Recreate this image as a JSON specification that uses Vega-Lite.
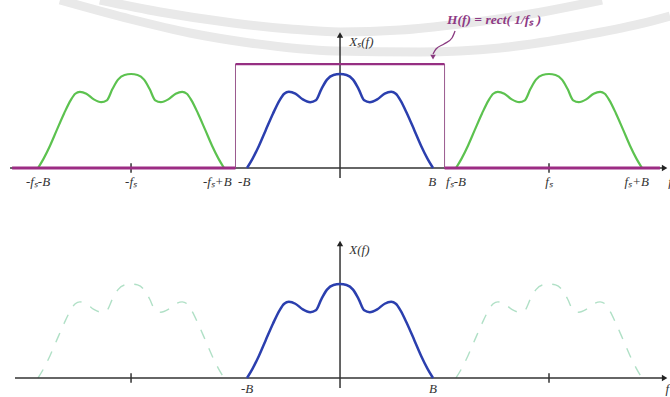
{
  "$schema": "https://vega.github.io/schema/vega-lite/v6.json",
  "padding": 0,
  "spacing": 0,
  "background": "white",
  "config": {"view": {"stroke": null}},
  "resolve": {"scale": {"x": "independent", "y": "independent"}},
  "datasets": {
    "curves": [
      {"c":"base","f":-1,"a":0},{"c":"base","f":-0.94,"a":0.10},{"c":"base","f":-0.87,"a":0.24},{"c":"base","f":-0.8,"a":0.40},{"c":"base","f":-0.72,"a":0.58},{"c":"base","f":-0.65,"a":0.72},{"c":"base","f":-0.6,"a":0.79},{"c":"base","f":-0.55,"a":0.81},{"c":"base","f":-0.48,"a":0.79},{"c":"base","f":-0.4,"a":0.73},{"c":"base","f":-0.32,"a":0.70},{"c":"base","f":-0.26,"a":0.72},{"c":"base","f":-0.2,"a":0.84},{"c":"base","f":-0.14,"a":0.94},{"c":"base","f":-0.07,"a":0.99},{"c":"base","f":0,"a":1.0},{"c":"base","f":0.07,"a":0.99},{"c":"base","f":0.14,"a":0.94},{"c":"base","f":0.2,"a":0.84},{"c":"base","f":0.26,"a":0.72},{"c":"base","f":0.32,"a":0.70},{"c":"base","f":0.4,"a":0.73},{"c":"base","f":0.48,"a":0.79},{"c":"base","f":0.55,"a":0.81},{"c":"base","f":0.6,"a":0.79},{"c":"base","f":0.65,"a":0.72},{"c":"base","f":0.72,"a":0.58},{"c":"base","f":0.8,"a":0.40},{"c":"base","f":0.87,"a":0.24},{"c":"base","f":0.94,"a":0.10},{"c":"base","f":1,"a":0},
      {"c":"left","f":-3.247,"a":0},{"c":"left","f":-3.187,"a":0.10},{"c":"left","f":-3.117,"a":0.24},{"c":"left","f":-3.047,"a":0.40},{"c":"left","f":-2.967,"a":0.58},{"c":"left","f":-2.897,"a":0.72},{"c":"left","f":-2.847,"a":0.79},{"c":"left","f":-2.797,"a":0.81},{"c":"left","f":-2.727,"a":0.79},{"c":"left","f":-2.647,"a":0.73},{"c":"left","f":-2.567,"a":0.70},{"c":"left","f":-2.507,"a":0.72},{"c":"left","f":-2.447,"a":0.84},{"c":"left","f":-2.387,"a":0.94},{"c":"left","f":-2.317,"a":0.99},{"c":"left","f":-2.247,"a":1.0},{"c":"left","f":-2.177,"a":0.99},{"c":"left","f":-2.107,"a":0.94},{"c":"left","f":-2.047,"a":0.84},{"c":"left","f":-1.987,"a":0.72},{"c":"left","f":-1.927,"a":0.70},{"c":"left","f":-1.847,"a":0.73},{"c":"left","f":-1.767,"a":0.79},{"c":"left","f":-1.697,"a":0.81},{"c":"left","f":-1.647,"a":0.79},{"c":"left","f":-1.597,"a":0.72},{"c":"left","f":-1.527,"a":0.58},{"c":"left","f":-1.447,"a":0.40},{"c":"left","f":-1.377,"a":0.24},{"c":"left","f":-1.307,"a":0.10},{"c":"left","f":-1.247,"a":0},
      {"c":"right","f":1.247,"a":0},{"c":"right","f":1.307,"a":0.10},{"c":"right","f":1.377,"a":0.24},{"c":"right","f":1.447,"a":0.40},{"c":"right","f":1.527,"a":0.58},{"c":"right","f":1.597,"a":0.72},{"c":"right","f":1.647,"a":0.79},{"c":"right","f":1.697,"a":0.81},{"c":"right","f":1.767,"a":0.79},{"c":"right","f":1.847,"a":0.73},{"c":"right","f":1.927,"a":0.70},{"c":"right","f":1.987,"a":0.72},{"c":"right","f":2.047,"a":0.84},{"c":"right","f":2.107,"a":0.94},{"c":"right","f":2.177,"a":0.99},{"c":"right","f":2.247,"a":1.0},{"c":"right","f":2.317,"a":0.99},{"c":"right","f":2.387,"a":0.94},{"c":"right","f":2.447,"a":0.84},{"c":"right","f":2.507,"a":0.72},{"c":"right","f":2.567,"a":0.70},{"c":"right","f":2.647,"a":0.73},{"c":"right","f":2.727,"a":0.79},{"c":"right","f":2.797,"a":0.81},{"c":"right","f":2.847,"a":0.79},{"c":"right","f":2.897,"a":0.72},{"c":"right","f":2.967,"a":0.58},{"c":"right","f":3.047,"a":0.40},{"c":"right","f":3.117,"a":0.24},{"c":"right","f":3.187,"a":0.10},{"c":"right","f":3.247,"a":0}
    ],
    "wm": [
      {"c":"outer","f":-3.011,"a":1.787},{"c":"outer","f":-2.258,"a":1.585},{"c":"outer","f":-1.613,"a":1.436},{"c":"outer","f":-0.968,"a":1.33},{"c":"outer","f":-0.054,"a":1.245},{"c":"outer","f":0.86,"a":1.234},{"c":"outer","f":1.72,"a":1.277},{"c":"outer","f":2.581,"a":1.404},{"c":"outer","f":3.226,"a":1.532},{"c":"outer","f":3.548,"a":1.617},
      {"c":"inner","f":-2.581,"a":1.787},{"c":"inner","f":-1.935,"a":1.66},{"c":"inner","f":-1.151,"a":1.543},{"c":"inner","f":-0.538,"a":1.479},{"c":"inner","f":0,"a":1.447},{"c":"inner","f":0.645,"a":1.468},{"c":"inner","f":1.29,"a":1.532},{"c":"inner","f":2.043,"a":1.638},{"c":"inner","f":2.817,"a":1.787}
    ],
    "segs": [
      {"p":"top","k":"axis","f":-3.548,"f2":3.47,"a":0,"a2":0},
      {"p":"top","k":"vaxis","f":0,"f2":0,"a":-0.106,"a2":1.40},
      {"p":"top","k":"tick","f":-2.247,"f2":-2.247,"a":-0.05,"a2":0.05},
      {"p":"top","k":"tick","f":2.247,"f2":2.247,"a":-0.05,"a2":0.05},
      {"p":"top","k":"side","f":-1.124,"f2":-1.124,"a":0,"a2":1.106},
      {"p":"top","k":"side","f":1.124,"f2":1.124,"a":0,"a2":1.106},
      {"p":"top","k":"rtop","f":-1.124,"f2":1.124,"a":1.106,"a2":1.106},
      {"p":"top","k":"pbase","f":-3.526,"f2":-1.124,"a":0,"a2":0},
      {"p":"top","k":"pbase","f":1.124,"f2":3.44,"a":0,"a2":0},
      {"p":"bot","k":"axis","f":-3.495,"f2":3.47,"a":0,"a2":0},
      {"p":"bot","k":"vaxis","f":0,"f2":0,"a":-0.106,"a2":1.41},
      {"p":"bot","k":"tick","f":-2.247,"f2":-2.247,"a":-0.05,"a2":0.05},
      {"p":"bot","k":"tick","f":2.247,"f2":2.247,"a":-0.05,"a2":0.05}
    ],
    "heads": [
      {"p":"top","s":"triangle-right","f":3.49,"a":0},
      {"p":"top","s":"triangle-up","f":0,"a":1.415},
      {"p":"bot","s":"triangle-right","f":3.49,"a":0},
      {"p":"bot","s":"triangle-up","f":0,"a":1.43}
    ],
    "hook": [
      {"f":1.237,"a":1.457},{"f":1.204,"a":1.383},{"f":1.118,"a":1.319},{"f":1.032,"a":1.266},{"f":1.0,"a":1.213}
    ],
    "ticklabels": [
      {"p":"top","t":"-fₛ-B","f":-3.247,"a":-0.15},
      {"p":"top","t":"-fₛ","f":-2.247,"a":-0.15},
      {"p":"top","t":"-fₛ+B","f":-1.32,"a":-0.15},
      {"p":"top","t":"-B","f":-1.03,"a":-0.15},
      {"p":"top","t":"B","f":0.99,"a":-0.15},
      {"p":"top","t":"fₛ-B","f":1.247,"a":-0.15},
      {"p":"top","t":"fₛ","f":2.247,"a":-0.15},
      {"p":"top","t":"fₛ+B","f":3.19,"a":-0.15},
      {"p":"bot","t":"-B","f":-1,"a":-0.12},
      {"p":"bot","t":"B","f":1,"a":-0.12}
    ],
    "names": [
      {"p":"top","t":"Xₛ(f)","f":0.1,"a":1.34},
      {"p":"top","t":"f","f":3.53,"a":-0.15},
      {"p":"bot","t":"X(f)","f":0.1,"a":1.362},
      {"p":"bot","t":"f","f":3.5,"a":-0.12}
    ]
  },
  "vconcat": [
    {
      "width": 670,
      "height": 200,
      "encoding": {
        "x": {"field": "f", "type": "quantitative", "axis": null, "scale": {"domain": [-3.656, 3.548], "nice": false, "zero": false}},
        "y": {"field": "a", "type": "quantitative", "axis": null, "scale": {"domain": [-0.3404, 1.7872], "nice": false, "zero": false}}
      },
      "layer": [
        {"data": {"name": "wm"}, "mark": {"type": "line", "color": "#e9e9e9", "strokeWidth": 9, "interpolate": "monotone", "clip": true}, "encoding": {"detail": {"field": "c"}}},
        {"data": {"name": "segs"}, "transform": [{"filter": "datum.p == 'top' && (datum.k == 'axis' || datum.k == 'vaxis' || datum.k == 'tick')"}], "mark": {"type": "rule", "color": "#333333", "strokeWidth": 1.5}, "encoding": {"x2": {"field": "f2"}, "y2": {"field": "a2"}}},
        {"data": {"name": "segs"}, "transform": [{"filter": "datum.p == 'top' && datum.k == 'side'"}], "mark": {"type": "rule", "color": "#9a5a8e", "strokeWidth": 1}, "encoding": {"x2": {"field": "f2"}, "y2": {"field": "a2"}}},
        {"data": {"name": "segs"}, "transform": [{"filter": "datum.p == 'top' && datum.k == 'rtop'"}], "mark": {"type": "rule", "color": "#962f82", "strokeWidth": 2.2}, "encoding": {"x2": {"field": "f2"}, "y2": {"field": "a2"}}},
        {"data": {"name": "curves"}, "transform": [{"filter": "datum.c != 'base'"}], "mark": {"type": "line", "color": "#5cc24f", "strokeWidth": 2.2, "interpolate": "monotone"}, "encoding": {"detail": {"field": "c"}}},
        {"data": {"name": "segs"}, "transform": [{"filter": "datum.p == 'top' && datum.k == 'pbase'"}], "mark": {"type": "rule", "color": "#9c2c84", "strokeWidth": 3}, "encoding": {"x2": {"field": "f2"}, "y2": {"field": "a2"}}},
        {"data": {"name": "curves"}, "transform": [{"filter": "datum.c == 'base'"}], "mark": {"type": "line", "color": "#2b3fae", "strokeWidth": 2.5, "interpolate": "monotone"}},
        {"data": {"name": "heads"}, "transform": [{"filter": "datum.p == 'top'"}], "mark": {"type": "point", "filled": true, "color": "#222222", "size": 40, "opacity": 1}, "encoding": {"shape": {"field": "s", "type": "nominal", "scale": null}}},
        {"data": {"name": "hook"}, "mark": {"type": "line", "color": "#8a3a80", "strokeWidth": 1.3, "interpolate": "monotone"}},
        {"data": {"values": [{"f": 1.0, "a": 1.18}]}, "mark": {"type": "point", "shape": "triangle-down", "filled": true, "color": "#8a3a80", "size": 30, "opacity": 1}},
        {"data": {"values": [{"t": "H(f) = rect( 1/fₛ )", "f": 1.15, "a": 1.574}]}, "mark": {"type": "text", "align": "left", "baseline": "middle", "font": "Liberation Serif", "fontStyle": "italic", "fontWeight": "bold", "fontSize": 13.5, "color": "#8e3a84"}, "encoding": {"text": {"field": "t"}}},
        {"data": {"name": "ticklabels"}, "transform": [{"filter": "datum.p == 'top'"}], "mark": {"type": "text", "align": "center", "baseline": "middle", "font": "Liberation Serif", "fontStyle": "italic", "fontSize": 13, "color": "#333333"}, "encoding": {"text": {"field": "t"}}},
        {"data": {"name": "names"}, "transform": [{"filter": "datum.p == 'top'"}], "mark": {"type": "text", "align": "left", "baseline": "middle", "font": "Liberation Serif", "fontStyle": "italic", "fontSize": 13, "color": "#333333"}, "encoding": {"text": {"field": "t"}}}
      ]
    },
    {
      "width": 670,
      "height": 197,
      "encoding": {
        "x": {"field": "f", "type": "quantitative", "axis": null, "scale": {"domain": [-3.656, 3.548], "nice": false, "zero": false}},
        "y": {"field": "a", "type": "quantitative", "axis": null, "scale": {"domain": [-0.2021, 1.8936], "nice": false, "zero": false}}
      },
      "layer": [
        {"data": {"name": "curves"}, "transform": [{"filter": "datum.c != 'base'"}], "mark": {"type": "line", "color": "#b0e0c6", "strokeWidth": 1.4, "strokeDash": [10, 10], "interpolate": "monotone"}, "encoding": {"detail": {"field": "c"}}},
        {"data": {"name": "segs"}, "transform": [{"filter": "datum.p == 'bot'"}], "mark": {"type": "rule", "color": "#333333", "strokeWidth": 1.5}, "encoding": {"x2": {"field": "f2"}, "y2": {"field": "a2"}}},
        {"data": {"name": "curves"}, "transform": [{"filter": "datum.c == 'base'"}], "mark": {"type": "line", "color": "#2b3fae", "strokeWidth": 2.5, "interpolate": "monotone"}},
        {"data": {"name": "heads"}, "transform": [{"filter": "datum.p == 'bot'"}], "mark": {"type": "point", "filled": true, "color": "#222222", "size": 40, "opacity": 1}, "encoding": {"shape": {"field": "s", "type": "nominal", "scale": null}}},
        {"data": {"name": "ticklabels"}, "transform": [{"filter": "datum.p == 'bot'"}], "mark": {"type": "text", "align": "center", "baseline": "middle", "font": "Liberation Serif", "fontStyle": "italic", "fontSize": 13, "color": "#333333"}, "encoding": {"text": {"field": "t"}}},
        {"data": {"name": "names"}, "transform": [{"filter": "datum.p == 'bot'"}], "mark": {"type": "text", "align": "left", "baseline": "middle", "font": "Liberation Serif", "fontStyle": "italic", "fontSize": 13, "color": "#333333"}, "encoding": {"text": {"field": "t"}}}
      ]
    }
  ]
}
